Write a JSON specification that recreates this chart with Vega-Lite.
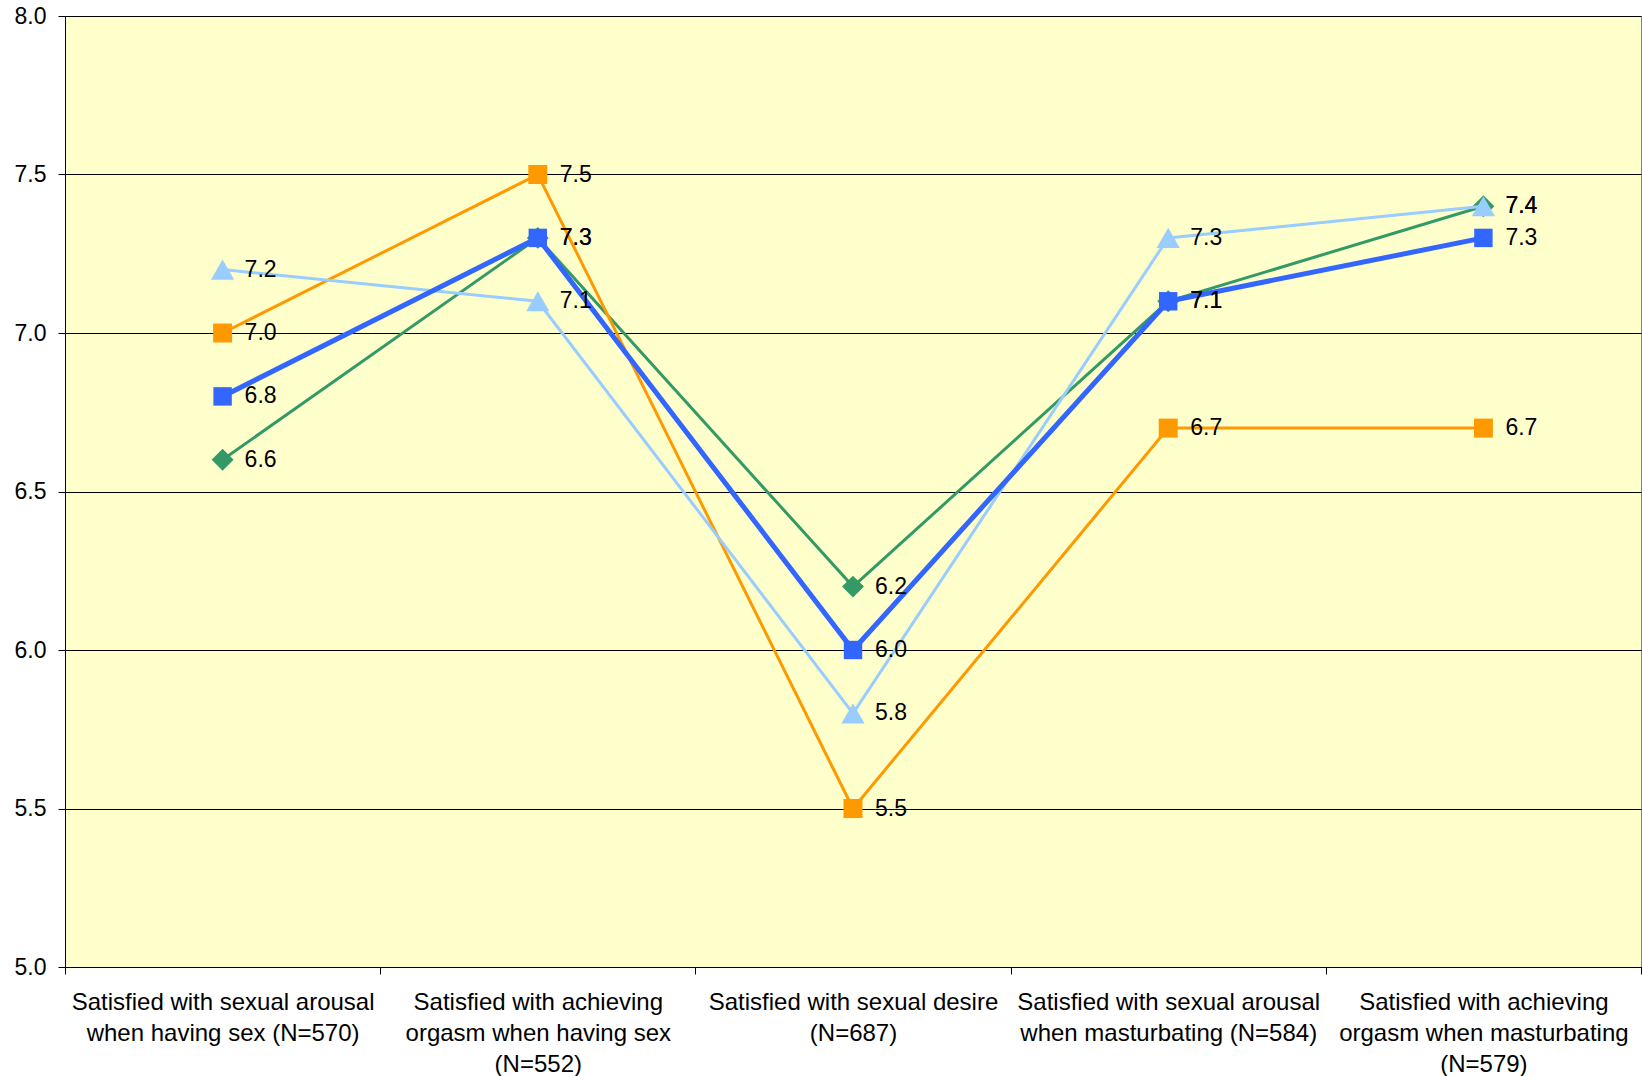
{
  "$schema": "https://vega.github.io/schema/vega-lite/v6.json",
  "autosize": "none",
  "width": 1576,
  "height": 951,
  "padding": {"left": 65, "top": 16, "right": 1, "bottom": 109},
  "background": "white",
  "config": {
    "view": {"fill": "#FFFFCC", "stroke": "#808080", "strokeWidth": 1},
    "font": "Liberation Sans"
  },
  "data": {
    "values": [
      {"cat": "Satisfied with sexual arousal|when having sex (N=570)", "series": "Green", "value": 6.6},
      {"cat": "Satisfied with achieving|orgasm when having sex|(N=552)", "series": "Green", "value": 7.3},
      {"cat": "Satisfied with sexual desire|(N=687)", "series": "Green", "value": 6.2},
      {"cat": "Satisfied with sexual arousal|when masturbating (N=584)", "series": "Green", "value": 7.1},
      {"cat": "Satisfied with achieving|orgasm when masturbating|(N=579)", "series": "Green", "value": 7.4},
      {"cat": "Satisfied with sexual arousal|when having sex (N=570)", "series": "Orange", "value": 7.0},
      {"cat": "Satisfied with achieving|orgasm when having sex|(N=552)", "series": "Orange", "value": 7.5},
      {"cat": "Satisfied with sexual desire|(N=687)", "series": "Orange", "value": 5.5},
      {"cat": "Satisfied with sexual arousal|when masturbating (N=584)", "series": "Orange", "value": 6.7},
      {"cat": "Satisfied with achieving|orgasm when masturbating|(N=579)", "series": "Orange", "value": 6.7},
      {"cat": "Satisfied with sexual arousal|when having sex (N=570)", "series": "LightBlue", "value": 7.2},
      {"cat": "Satisfied with achieving|orgasm when having sex|(N=552)", "series": "LightBlue", "value": 7.1},
      {"cat": "Satisfied with sexual desire|(N=687)", "series": "LightBlue", "value": 5.8},
      {"cat": "Satisfied with sexual arousal|when masturbating (N=584)", "series": "LightBlue", "value": 7.3},
      {"cat": "Satisfied with achieving|orgasm when masturbating|(N=579)", "series": "LightBlue", "value": 7.4},
      {"cat": "Satisfied with sexual arousal|when having sex (N=570)", "series": "Blue", "value": 6.8},
      {"cat": "Satisfied with achieving|orgasm when having sex|(N=552)", "series": "Blue", "value": 7.3},
      {"cat": "Satisfied with sexual desire|(N=687)", "series": "Blue", "value": 6.0},
      {"cat": "Satisfied with sexual arousal|when masturbating (N=584)", "series": "Blue", "value": 7.1},
      {"cat": "Satisfied with achieving|orgasm when masturbating|(N=579)", "series": "Blue", "value": 7.3}
    ]
  },
  "encoding": {
    "x": {
      "field": "cat",
      "type": "nominal",
      "sort": null,
      "bandPosition": 0.5,
      "scale": {"type": "band", "paddingInner": 0, "paddingOuter": 0},
      "axis": {
        "title": null,
        "labelAngle": 0,
        "labelExpr": "split(datum.label, '|')",
        "labelFontSize": 24,
        "labelLineHeight": 31,
        "labelColor": "black",
        "labelBaseline": "top",
        "labelPadding": 16,
        "labelLimit": 0,
        "tickBand": "extent",
        "tickColor": "black",
        "tickSize": 7,
        "domainColor": "black",
        "grid": false
      }
    },
    "y": {
      "field": "value",
      "type": "quantitative",
      "scale": {"domain": [5, 8], "nice": false, "zero": false},
      "axis": {
        "title": null,
        "values": [5, 5.5, 6, 6.5, 7, 7.5, 8],
        "format": ".1f",
        "labelFontSize": 23,
        "labelColor": "black",
        "labelPadding": 12,
        "tickColor": "black",
        "tickSize": 7,
        "domainColor": "black",
        "grid": true,
        "gridColor": "black",
        "gridOpacity": 1,
        "gridWidth": 1
      }
    }
  },
  "layer": [
    {
      "transform": [{"filter": "datum.series == 'Green'"}],
      "layer": [
        {"mark": {"type": "line", "color": "#339966", "strokeWidth": 3}},
        {"mark": {"type": "point", "shape": "diamond", "filled": true, "color": "#339966", "size": 480, "opacity": 1}}
      ]
    },
    {
      "transform": [{"filter": "datum.series == 'Orange'"}],
      "layer": [
        {"mark": {"type": "line", "color": "#FF9900", "strokeWidth": 3}},
        {"mark": {"type": "point", "shape": "square", "filled": true, "color": "#FF9900", "size": 360, "opacity": 1}}
      ]
    },
    {
      "transform": [{"filter": "datum.series == 'LightBlue'"}],
      "layer": [
        {"mark": {"type": "line", "color": "#99CCFF", "strokeWidth": 3}},
        {"mark": {"type": "point", "shape": "triangle-up", "filled": true, "color": "#99CCFF", "size": 540, "opacity": 1}}
      ]
    },
    {
      "transform": [{"filter": "datum.series == 'Blue'"}],
      "layer": [
        {"mark": {"type": "line", "color": "#3366FF", "strokeWidth": 5}},
        {"mark": {"type": "point", "shape": "square", "filled": true, "color": "#3366FF", "size": 340, "opacity": 1}}
      ]
    },
    {
      "mark": {"type": "text", "align": "left", "baseline": "middle", "dx": 22, "fontSize": 23, "color": "black"},
      "encoding": {
        "text": {"field": "value", "type": "quantitative", "format": ".1f"}
      }
    }
  ]
}
